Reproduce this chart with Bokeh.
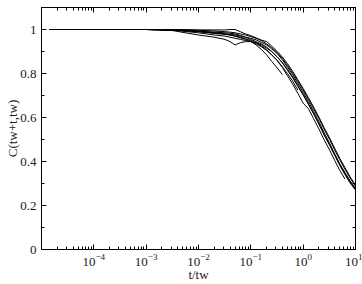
from bokeh.plotting import figure
from bokeh.models import Range1d, FixedTicker, LinearAxis, LogTickFormatter
from bokeh.embed import file_html
from bokeh.resources import INLINE

# shared t/tw sample points
t_ratio = [1.4e-5, 1e-4, 1e-3, 3.2e-3, 1e-2, 0.02, 0.032, 0.04, 0.05, 0.063, 0.079,
           0.1, 0.126, 0.158, 0.2, 0.25, 0.32, 0.4, 0.5, 0.63, 0.79, 1.0, 1.26,
           1.58, 2.0, 2.5, 3.2, 4.0, 5.0, 6.3, 7.9, 10.0]

curve_a = [1, 1, 1, 0.998, 0.99, 0.985, 0.98, 0.978, 0.975, 0.97, 0.965, 0.96, 0.953,
           0.942, 0.93, 0.912, 0.89, 0.862, 0.83, 0.795, 0.755, 0.715, 0.672, 0.628,
           0.58, 0.532, 0.483, 0.436, 0.39, 0.35, 0.312, 0.278]
curve_b = [1, 1, 1, 1.0, 0.998, 0.998, 0.998, 1.0, 1.0, 0.99, 0.98, 0.972, 0.962,
           0.952, 0.945, 0.925, 0.9, 0.875, 0.845, 0.81, 0.772, 0.732, 0.69, 0.648,
           0.602, 0.555, 0.507, 0.46, 0.415, 0.372, 0.33, 0.292]
curve_c = [1, 1, 1, 0.995, 0.975, 0.965, 0.955, 0.945, 0.93, 0.94, 0.945, 0.945, 0.94,
           0.93, 0.915, 0.9, 0.875, 0.85, 0.82, 0.785, 0.745, 0.705, 0.662, 0.618,
           0.57, 0.522, 0.474, 0.428, 0.383, 0.34, 0.302, 0.27]
curve_d = [1, 1, 1, 0.997, 0.985, 0.975, 0.97, 0.965, 0.96, 0.955, 0.95, 0.945, 0.935,
           0.922, 0.905, 0.885, 0.858, 0.828, 0.79, 0.752, 0.71, 0.665, 0.64, 0.595,
           0.548, 0.5, 0.452, 0.405, 0.36, 0.32]
curve_e = [1, 1, 1, 0.998, 0.99, 0.982, 0.978, 0.975, 0.97, 0.962, 0.955, 0.945, 0.93,
           0.91, 0.885, 0.855, 0.825, 0.795]
curve_f = [1, 1, 1, 0.998, 0.992, 0.985, 0.98, 0.975, 0.97, 0.965, 0.958, 0.95, 0.94,
           0.925, 0.908, 0.885, 0.86, 0.83, 0.8, 0.765, 0.725]
curve_g = [1, 1, 1, 1, 0.997, 0.993, 0.99, 0.988, 0.985, 0.98, 0.975, 0.968, 0.96,
           0.95, 0.935, 0.918, 0.895, 0.868, 0.837, 0.803, 0.765, 0.725, 0.683, 0.64,
           0.595, 0.548, 0.5, 0.453, 0.408, 0.365, 0.325, 0.288]
curve_h = [1, 1, 1, 0.999, 0.993, 0.988, 0.985, 0.983, 0.98, 0.973, 0.965, 0.955, 0.945,
           0.935, 0.92, 0.9, 0.875, 0.848, 0.815, 0.78, 0.742, 0.702, 0.66, 0.617,
           0.571, 0.524, 0.477, 0.43, 0.386, 0.345, 0.307, 0.274]

curves = [curve_a, curve_b, curve_c, curve_d, curve_e, curve_f, curve_g, curve_h]

x_major = [1e-4, 1e-3, 1e-2, 1e-1, 1e0, 1e1]
y_major = [0, 0.2, 0.4, 0.6, 0.8, 1.0]
y_labels = ["0", "0.2", "0.4", "0.6", "0.8", "1"]

FONT = "Liberation Serif"
TXT = "#1a1a1a"

p = figure(width=362, height=284, x_axis_type="log",
           x_range=Range1d(1e-5, 10), y_range=Range1d(0, 1.1),
           output_backend="svg", toolbar_location=None,
           min_border_left=41, min_border_right=7, min_border_top=7, min_border_bottom=35,
           x_axis_label="t/tw", y_axis_label="C(tw+t,tw)")
p.grid.visible = False
p.outline_line_color = "black"
p.outline_line_alpha = 1.0
p.background_fill_color = "white"
p.border_fill_color = "white"

for ys in curves:
    p.line(t_ratio[:len(ys)], ys, line_color="black", line_width=1)

x_minor = [k * 10.0 ** e for e in range(-5, 1) for k in range(2, 10)]
y_minor = [i / 10 for i in range(0, 12)]
xt = FixedTicker(ticks=x_major, minor_ticks=x_minor)
yt = FixedTicker(ticks=y_major, minor_ticks=y_minor)

def style(ax, show):
    ax.axis_line_color = "black"
    ax.major_tick_in = 5
    ax.major_tick_out = 0
    ax.minor_tick_in = 3
    ax.minor_tick_out = 0
    ax.major_tick_line_color = "black"
    ax.minor_tick_line_color = "black"
    ax.major_label_text_font = FONT
    ax.major_label_text_color = TXT
    ax.axis_label_text_font = FONT
    ax.axis_label_text_font_style = "normal"
    ax.axis_label_text_font_size = "13px"
    ax.axis_label_text_color = TXT
    if show:
        ax.major_label_text_font_size = "13px"
    else:
        ax.major_label_text_font_size = "1px"
        ax.major_label_text_alpha = 0
        ax.major_label_standoff = 0

xa = p.xaxis[0]
xa.ticker = xt
xa.formatter = LogTickFormatter()
style(xa, True)
xa.major_label_standoff = 4
xa.axis_label_standoff = -2

ya = p.yaxis[0]
ya.ticker = yt
ya.major_label_overrides = {v: s for v, s in zip(y_major, y_labels)}
style(ya, True)
ya.major_label_standoff = 5
ya.axis_label_standoff = -3

top = LinearAxis(ticker=FixedTicker(ticks=x_major, minor_ticks=x_minor))
style(top, False)
p.add_layout(top, "above")
right = LinearAxis(ticker=FixedTicker(ticks=y_major, minor_ticks=y_minor))
style(right, False)
p.add_layout(right, "right")

open("out.html", "w").write(file_html(p, INLINE))
